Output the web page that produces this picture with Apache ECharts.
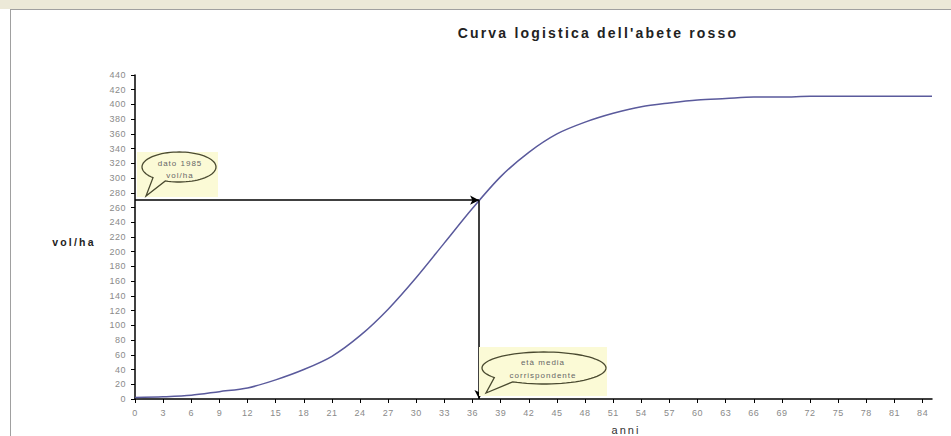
<!DOCTYPE html>
<html>
<head>
<meta charset="utf-8">
<script src="https://cdn.jsdelivr.net/npm/echarts@6/dist/echarts.min.js"></script>
<style>
html,body{margin:0;padding:0;background:#fff;}
#c{width:951px;height:436px;}
#c text{letter-spacing:0.5px;}
#c text[style*="14px"]{letter-spacing:2.2px;}
#c text[style*="10.5px"]{letter-spacing:2.2px;}
#c text[style*="11px"]{letter-spacing:2px;}
#c text[style*="8px"]{letter-spacing:1px;}
</style>
</head>
<body>
<div id="c"></div>
<script>
// ---- data ----
const years   = [0, 3, 6, 9, 12, 15, 18, 21, 24, 27, 30, 33, 36, 39, 42, 45, 48, 51, 54, 57, 60, 63, 66, 69, 72, 75, 78, 81, 84, 85];
const volumes = [2, 3, 5, 10, 15, 26, 40, 58, 86, 122, 165, 212, 259, 302, 335, 360, 376, 388, 397, 402, 406, 408, 410, 410, 411, 411, 411, 411, 411, 411];
const xTickLabels = [0, 3, 6, 9, 12, 15, 18, 21, 24, 27, 30, 33, 36, 39, 42, 45, 48, 51, 54, 57, 60, 63, 66, 69, 72, 75, 78, 81, 84];
const refYear = 36.7;     // età media corrispondente
const refVolume = 270;    // dato 1985 vol/ha
const titleText = "Curva logistica dell'abete rosso";
const yAxisTitle = 'vol/ha';
const xAxisTitle = 'anni';
const bubble1Text = ['dato 1985', 'vol/ha'];
const bubble2Text = ['età media', 'corrispondente'];

const chart = echarts.init(document.getElementById('c'), null, {renderer: 'svg'});

function bubblePoints(cx, cy, rx, ry, a0, a1, tip) {
  const pts = [];
  const n = 72;
  for (let i = 0; i <= n; i++) {
    const a = a1 + (i / n) * (Math.PI * 2 - (a1 - a0));
    pts.push([cx + rx * Math.cos(a), cy + ry * Math.sin(a)]);
  }
  pts.push(tip);
  return pts;
}

const FF = '"Liberation Sans", Arial, sans-serif';
const lbl = {color: '#8a8a8a', fontSize: 9, fontFamily: FF};

chart.setOption({
  animation: false,
  backgroundColor: '#ffffff',
  grid: {left: 135, right: 19, top: 75, bottom: 37, containLabel: false},
  xAxis: {
    type: 'value', min: 0, max: 85, interval: 3,
    axisLine: {show: true, lineStyle: {color: '#000', width: 1.5}},
    axisTick: {show: true, length: 4, lineStyle: {color: '#000'}, customValues: xTickLabels},
    axisLabel: Object.assign({margin: 9, customValues: xTickLabels}, lbl),
    splitLine: {show: false}
  },
  yAxis: {
    type: 'value', min: 0, max: 440, interval: 20,
    axisLine: {show: true, lineStyle: {color: '#000', width: 1.5}},
    axisTick: {show: true, length: 4, lineStyle: {color: '#000'}},
    axisLabel: Object.assign({margin: 9}, lbl),
    splitLine: {show: false}
  },
  series: [{
    type: 'line',
    data: years.map((y, i) => [y, volumes[i]]),
    smooth: 0.3,
    showSymbol: false,
    lineStyle: {color: '#5a5a9c', width: 1.5},
    z: 2,
    markLine: {
      silent: true,
      symbol: ['none', 'arrow'],
      symbolSize: [7, 9],
      label: {show: false},
      lineStyle: {color: '#000', width: 1.5, type: 'solid'},
      data: [
        [{coord: [0, refVolume]}, {coord: [refYear, refVolume]}],
        [{coord: [refYear, refVolume]}, {coord: [refYear, 0]}]
      ]
    }
  }],
  graphic: [
    // frame
    {type: 'rect', z: 0, silent: true, shape: {x: 0, y: 0, width: 951, height: 9}, style: {fill: '#ECE9D8'}},
    {type: 'line', z: 0, silent: true, shape: {x1: 10, y1: 9.5, x2: 951, y2: 9.5}, style: {stroke: '#a0a0a0', lineWidth: 1}},
    {type: 'line', z: 0, silent: true, shape: {x1: 10.5, y1: 9, x2: 10.5, y2: 436}, style: {stroke: '#a0a0a0', lineWidth: 1}},
    // title
    {type: 'text', z: 10, silent: true, style: {text: titleText, x: 598, y: 33, align: 'center', verticalAlign: 'middle', font: 'bold 14px ' + FF, fill: '#222'}},
    // axis titles
    {type: 'text', z: 10, silent: true, style: {text: yAxisTitle, x: 74, y: 242, align: 'center', verticalAlign: 'middle', font: 'bold 10.5px ' + FF, fill: '#222'}},
    {type: 'text', z: 10, silent: true, style: {text: xAxisTitle, x: 626, y: 424, align: 'center', verticalAlign: 'top', font: '11px ' + FF, fill: '#333'}},
    // bubble 1
    {type: 'rect', z: 20, silent: true, shape: {x: 137, y: 152, width: 81, height: 45}, style: {fill: '#FBFAD6'}},
    {type: 'polygon', z: 21, silent: true, shape: {points: bubblePoints(179, 167, 37, 15, 1.95, 2.35, [146, 196])}, style: {fill: '#FBFAD6', stroke: '#4a4a30', lineWidth: 1.3}},
    {type: 'text', z: 22, silent: true, style: {text: bubble1Text[0], x: 180, y: 163, align: 'center', verticalAlign: 'middle', font: '8px ' + FF, fill: '#666'}},
    {type: 'text', z: 22, silent: true, style: {text: bubble1Text[1], x: 180, y: 175, align: 'center', verticalAlign: 'middle', font: '8px ' + FF, fill: '#666'}},
    // bubble 2
    {type: 'rect', z: 20, silent: true, shape: {x: 479, y: 347, width: 128, height: 49}, style: {fill: '#FBFAD6'}},
    {type: 'polygon', z: 21, silent: true, shape: {points: bubblePoints(544, 368, 62, 16, 2.1, 2.5, [486, 393])}, style: {fill: '#FBFAD6', stroke: '#4a4a30', lineWidth: 1.3}},
    {type: 'text', z: 22, silent: true, style: {text: bubble2Text[0], x: 543, y: 362, align: 'center', verticalAlign: 'middle', font: '8px ' + FF, fill: '#666'}},
    {type: 'text', z: 22, silent: true, style: {text: bubble2Text[1], x: 543, y: 375, align: 'center', verticalAlign: 'middle', font: '8px ' + FF, fill: '#666'}}
  ]
});
</script>
</body>
</html>
